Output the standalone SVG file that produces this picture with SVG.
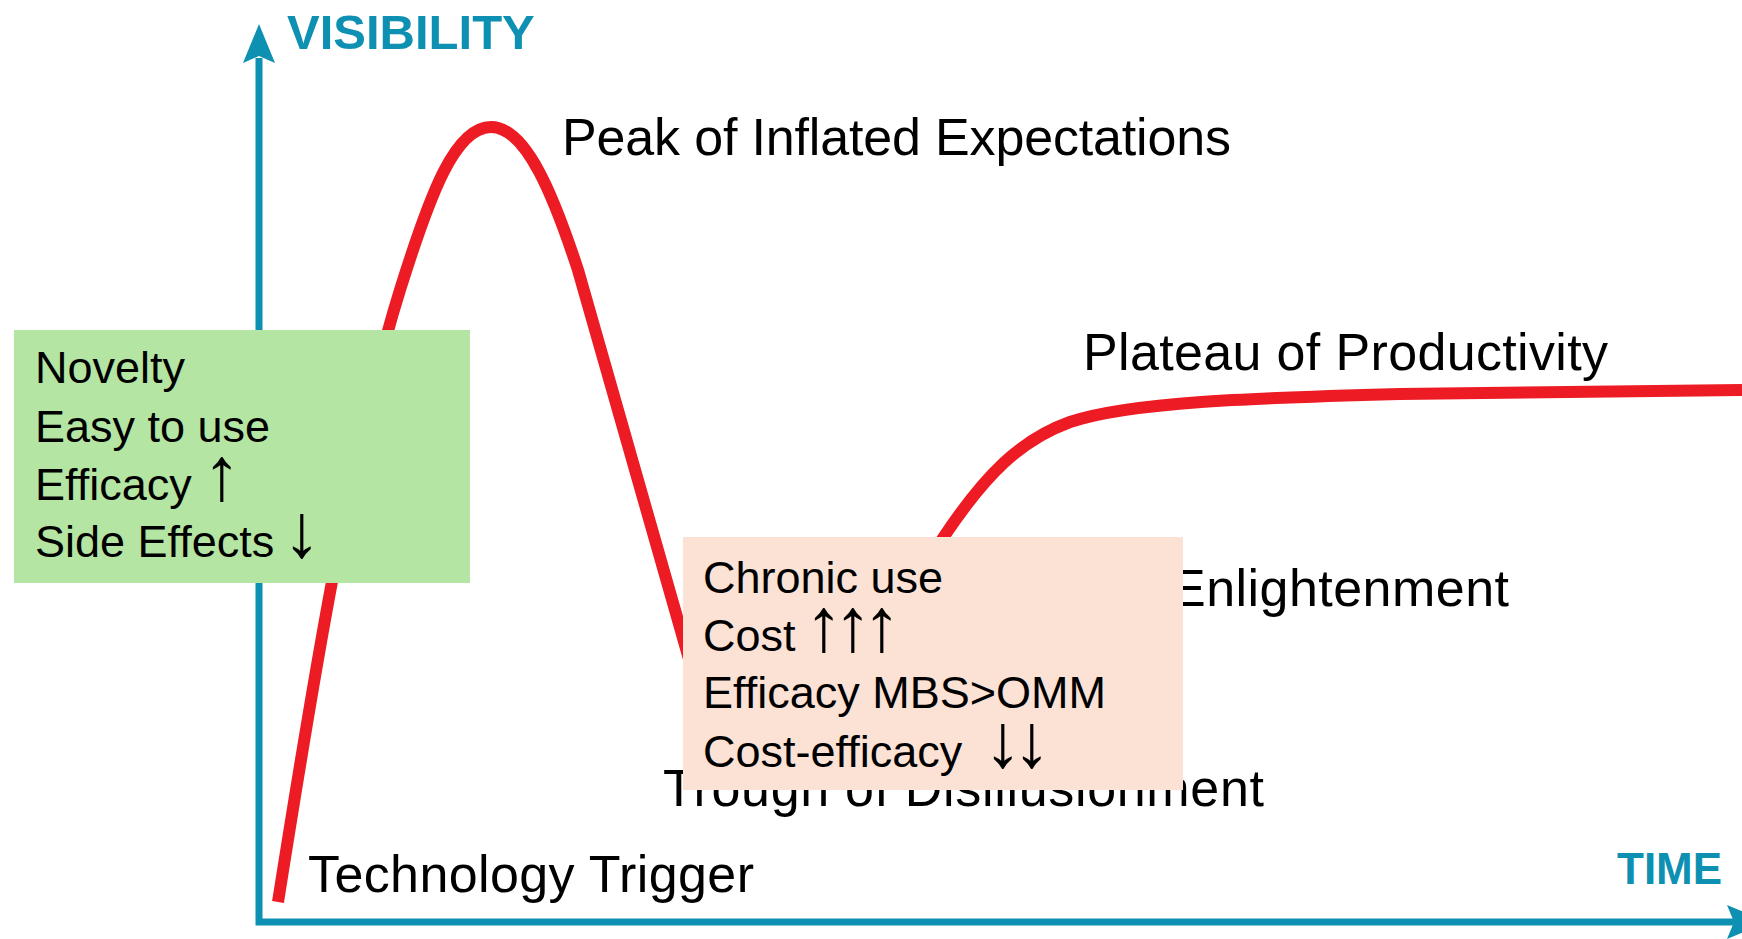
<svg xmlns="http://www.w3.org/2000/svg" width="1742" height="939" viewBox="0 0 1742 939">
  <style>
    .axis { fill: none; stroke: #0E90B2; stroke-width: 7; stroke-linejoin: miter; }
    .axhead { fill: #0E90B2; }
    .axlabel { font-family: "Liberation Sans", Arial, sans-serif; font-weight: bold; fill: #0E90B2; }
    .curve { fill: none; stroke: #ED1C24; stroke-width: 12; stroke-linejoin: round; }
    .phase { font-family: "Liberation Sans", Arial, sans-serif; font-size: 52px; fill: #000; }
    .note { font-family: "Liberation Sans", Arial, sans-serif; font-size: 45px; fill: #000; }
    .arr { font-family: "Liberation Sans", Arial, sans-serif; font-size: 76px; text-anchor: middle; }
  </style>
  <rect width="1742" height="939" fill="#ffffff"/>

  <g id="connectors">
    <polyline class="axis" points="259,58 259,922 1735,922"/>
    <polygon class="axhead" points="259,24 243,63 259,56 275,63"/>
    <polygon class="axhead" points="1768,922 1727,905 1734,922 1727,939"/>
    <path class="curve" d="M 278,902 C 310,700 350,450 400,290 C 430,194 455,127 491,127 C 527,127 555,200 578,270 L 695,680 C 715,750 780,770 850,680 C 890,625 915,580 943,538 C 985,475 1020,440 1070,422 C 1130,402 1250,398 1400,394 L 1742,390"/>
  </g>

  <g id="axis-labels">
    <text id="visibility" class="axlabel" x="287" y="49" font-size="49">VISIBILITY</text>
    <text id="time" class="axlabel" x="1617" y="884" font-size="44">TIME</text>
  </g>

  <g id="phase-labels">
    <text id="technology-trigger" class="phase" x="308" y="892" textLength="446">Technology Trigger</text>
    <text id="peak" class="phase" x="562" y="155" textLength="669">Peak of Inflated Expectations</text>
    <text id="plateau" class="phase" x="1083" y="370" textLength="525">Plateau of Productivity</text>
    <text id="enlightenment" class="phase" x="1509" y="606" text-anchor="end" textLength="338">Enlightenment</text>
    <text id="trough" class="phase" x="663" y="806" textLength="601">Trough of Disillusionment</text>
  </g>

  <g id="early-box">
    <rect x="14" y="330" width="456" height="253" fill="#B4E5A2"/>
    <text class="note" x="35" y="383">Novelty</text>
    <text class="note" x="35" y="442">Easy to use</text>
    <text class="note" x="35" y="500">Efficacy <tspan class="arr" x="222">↑</tspan></text>
    <text class="note" x="35" y="557">Side Effects <tspan class="arr" x="302">↓</tspan></text>
  </g>

  <g id="chronic-box">
    <rect x="683" y="537" width="500" height="253" fill="#FBE2D5"/>
    <text class="note" x="703" y="593">Chronic use</text>
    <text class="note" x="703" y="651">Cost <tspan class="arr" x="824">↑</tspan><tspan class="arr" x="853">↑</tspan><tspan class="arr" x="882">↑</tspan></text>
    <text class="note" x="703" y="708">Efficacy MBS&gt;OMM</text>
    <text class="note" x="703" y="767">Cost-efficacy <tspan class="arr" x="1003">↓</tspan><tspan class="arr" x="1032">↓</tspan></text>
  </g>
</svg>
